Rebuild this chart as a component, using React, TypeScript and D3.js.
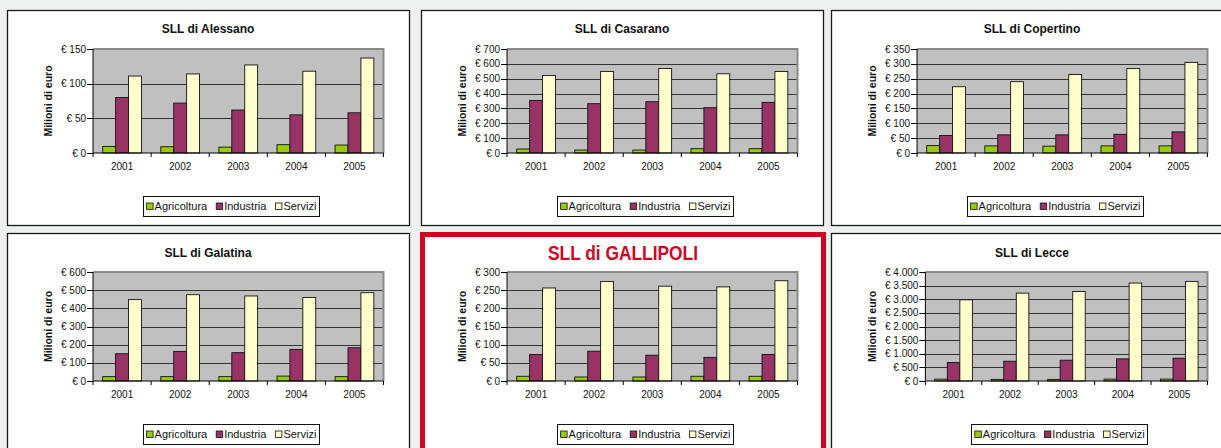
import { useEffect, useRef } from 'react';
import * as d3 from 'd3';

// dati (milioni di euro)
const years = ['2001', '2002', '2003', '2004', '2005'];
const series = ['Agricoltura', 'Industria', 'Servizi'];
const towns = ['Alessano', 'Casarano', 'Copertino', 'Galatina', 'GALLIPOLI', 'Lecce'];
const yMax = [150, 700, 350, 600, 300, 4000];
const yStep = [50, 100, 50, 100, 50, 500];

const agricoltura = [
  [9.5, 9, 8.5, 12, 11.5],
  [27, 20, 20, 29, 29],
  [25, 24, 23, 24, 24],
  [24, 24, 24, 27, 24],
  [13, 11, 11, 13, 13],
  [70, 60, 60, 70, 70],
];
const industria = [
  [80, 72, 62, 55, 58],
  [354, 332, 345, 305, 341],
  [59, 61, 61, 63, 71],
  [150, 163, 156, 174, 183],
  [73, 82, 71, 65, 73],
  [677, 726, 763, 812, 837],
];
const servizi = [
  [111, 114, 127, 118, 137],
  [521, 549, 569, 533, 549],
  [223, 240, 264, 284, 305],
  [448, 475, 468, 460, 486],
  [256, 274, 261, 259, 276],
  [2978, 3225, 3286, 3594, 3655],
];
const highlighted = 4;

const colors = ['#99cc00', '#993366', '#ffffcc'];
const W = 1221, H = 448;
const colX = [7, 421, 831];
const rowY = [10, 233];
const panelW = 402;
const rowH = [215, 260];
const plotBottomOff = [143, 148];
const FONT = "'Liberation Sans', Arial, Helvetica, sans-serif";

const it = d3.formatLocale({ decimal: ',', thousands: '.', grouping: [3], currency: ['€ ', ''] });
const fmt = it.format('$,.0f');

const App = () => {
  const ref = useRef<SVGSVGElement>(null);

  useEffect(() => {
    if (!ref.current) return;
    const svg = d3.select(ref.current);
    svg.selectAll('*').remove();

    svg.append('rect').attr('width', W).attr('height', H).attr('fill', '#eef0ef');

    towns.forEach((town, i) => {
      const col = i % 3, row = Math.floor(i / 3);
      const px = colX[col], py = rowY[row];
      const g = svg.append('g').attr('font-family', FONT);
      const isHi = i === highlighted;

      // riquadro
      g.append('rect')
        .attr('x', px + 0.5).attr('y', py + 0.5)
        .attr('width', panelW).attr('height', rowH[row])
        .attr('fill', '#fff').attr('stroke', '#1a1a1a').attr('stroke-width', 1.3);
      if (isHi) {
        g.append('rect')
          .attr('x', px + 1.5).attr('y', py + 1.5)
          .attr('width', panelW - 1).attr('height', rowH[row])
          .attr('fill', '#fff').attr('stroke', '#d2041f').attr('stroke-width', 5);
      }

      const ticks = d3.range(0, yMax[i] + 1, yStep[i]);
      // misura etichette asse y
      const probe = g.append('text').attr('font-size', 10).text(fmt(yMax[i]));
      const lw = (probe.node() as SVGTextElement).getComputedTextLength();
      probe.remove();

      const left = px + 54 + lw + 7;
      const right = px + 376.5;
      const top = py + 39;
      const bottom = py + plotBottomOff[row];

      const x0 = d3.scaleBand().domain(years).range([left, right]);
      const x1 = d3.scaleBand().domain(series).range([0, x0.bandwidth()]).paddingInner(0).paddingOuter(0.75);
      const y = d3.scaleLinear().domain([0, yMax[i]]).range([bottom, top]);

      // titolo
      if (isHi) {
        g.append('text')
          .attr('x', px + panelW / 2 + 1).attr('y', py + 27)
          .attr('text-anchor', 'middle').attr('font-size', 20).attr('font-weight', 'bold')
          .attr('font-family', "'Liberation Sans Narrow', 'Arial Narrow', " + FONT)
          .attr('fill', '#d2041f')
          .attr('textLength', 150).attr('lengthAdjust', 'spacingAndGlyphs')
          .text(`SLL di ${town}`);
      } else {
        g.append('text')
          .attr('x', px + panelW / 2).attr('y', py + 23 + row)
          .attr('text-anchor', 'middle').attr('font-size', 12).attr('font-weight', 'bold')
          .attr('fill', '#111')
          .text(`SLL di ${town}`);
      }

      // area del grafico
      g.append('rect')
        .attr('x', left).attr('y', top)
        .attr('width', right - left).attr('height', bottom - top)
        .attr('fill', '#c0c0c0');
      g.append('path')
        .attr('d', `M${left},${top}H${right}V${bottom}`)
        .attr('fill', 'none').attr('stroke', '#8a8a8a').attr('stroke-width', 2);

      g.selectAll('line.grid')
        .data(ticks.filter(t => t > 0 && t < yMax[i]))
        .join('line')
        .attr('x1', left).attr('x2', right - 1)
        .attr('y1', d => Math.round(y(d)) + 0.5).attr('y2', d => Math.round(y(d)) + 0.5)
        .attr('stroke', '#333').attr('stroke-width', 1);

      // barre
      const vals = [agricoltura[i], industria[i], servizi[i]];
      years.forEach((yr, j) => {
        series.forEach((s, k) => {
          const v = vals[k][j];
          g.append('rect')
            .attr('x', (x0(yr) as number) + (x1(s) as number))
            .attr('y', y(v))
            .attr('width', x1.bandwidth())
            .attr('height', bottom - y(v))
            .attr('fill', colors[k])
            .attr('stroke', '#111').attr('stroke-width', 0.9);
        });
      });

      // assi
      g.append('line').attr('x1', left).attr('x2', left).attr('y1', top).attr('y2', bottom)
        .attr('stroke', '#000').attr('stroke-width', 1);
      g.append('line').attr('x1', left).attr('x2', right).attr('y1', bottom).attr('y2', bottom)
        .attr('stroke', '#000').attr('stroke-width', 1);
      g.selectAll('line.yt').data(ticks).join('line')
        .attr('x1', left - 6).attr('x2', left)
        .attr('y1', d => Math.round(y(d)) + 0.5).attr('y2', d => Math.round(y(d)) + 0.5)
        .attr('stroke', '#000');
      g.selectAll('text.yl').data(ticks).join('text')
        .attr('x', left - 7).attr('y', d => y(d) + 3.5)
        .attr('text-anchor', 'end').attr('font-size', 10).attr('fill', '#111')
        .text(d => fmt(d));
      const bounds = years.map(yr => x0(yr) as number).concat([right]);
      g.selectAll('line.xt').data(bounds).join('line')
        .attr('x1', d => d).attr('x2', d => d)
        .attr('y1', bottom).attr('y2', bottom + 4)
        .attr('stroke', '#000');
      g.selectAll('text.xl').data(years).join('text')
        .attr('x', d => (x0(d) as number) + x0.bandwidth() / 2)
        .attr('y', bottom + 17)
        .attr('text-anchor', 'middle').attr('font-size', 10).attr('fill', '#111')
        .text(d => d);

      // titolo asse y
      g.append('text')
        .attr('transform', `translate(${px + 41},${(top + bottom) / 2}) rotate(-90)`)
        .attr('text-anchor', 'middle').attr('dominant-baseline', 'central')
        .attr('font-size', 10.5).attr('font-weight', 'bold').attr('fill', '#111')
        .text('Milioni di euro');

      // legenda
      const lg = g.append('g');
      const items = lg.selectAll('g').data(series).join('g');
      items.append('rect').attr('width', 6.5).attr('height', 6.5)
        .attr('fill', (_, k) => colors[k]).attr('stroke', '#111').attr('stroke-width', 0.8);
      const labels = items.append('text').attr('x', 8).attr('y', 7).attr('font-size', 11).attr('fill', '#111')
        .text(d => d);
      let cx = 3.5;
      const gap = 9;
      labels.each(function (_, k) {
        const w = (this as SVGTextElement).getComputedTextLength();
        d3.select((this as SVGTextElement).parentNode as SVGGElement).attr('data-x', cx);
        cx += 8 + w + (k < series.length - 1 ? gap : 3);
      });
      const lwid = cx;
      const lx = (left + right) / 2 - 7 - lwid / 2;
      const ly = bottom + 43;
      lg.insert('rect', ':first-child')
        .attr('x', Math.round(lx) + 0.5).attr('y', Math.round(ly) + 0.5)
        .attr('width', Math.round(lwid)).attr('height', 20)
        .attr('fill', '#fff').attr('stroke', '#111').attr('stroke-width', 1);
      items.attr('transform', function () {
        const ox = +(this as SVGGElement).getAttribute('data-x')!;
        return `translate(${lx + ox},${ly + 7})`;
      });
    });
  }, []);

  return (
    <svg ref={ref} width={W} height={H} viewBox={`0 0 ${W} ${H}`}
      style={{ position: 'absolute', left: 0, top: 0, display: 'block' }} />
  );
};

export default App;
